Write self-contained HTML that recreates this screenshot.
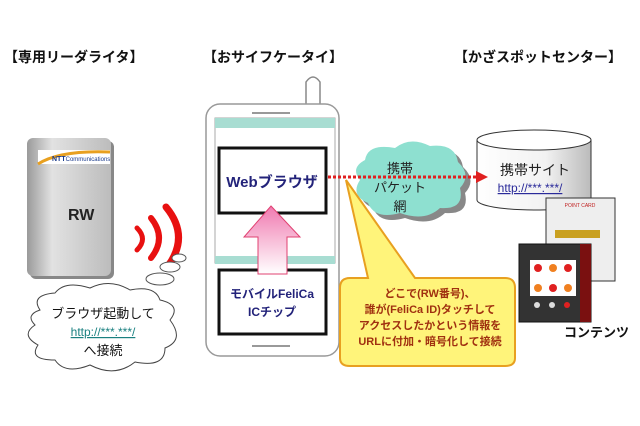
<!DOCTYPE html>
<html><head><meta charset="utf-8"><style>
body{margin:0;background:#fff}
svg{display:block;font-family:"Liberation Sans","Noto Sans CJK JP",sans-serif}
</style></head><body>
<svg width="640" height="426" viewBox="0 0 640 426">
<defs>
<linearGradient id="rw" x1="0" x2="1"><stop offset="0" stop-color="#9a9a9a"/><stop offset=".3" stop-color="#e2e2e2"/><stop offset="1" stop-color="#bcbcbc"/></linearGradient>
<linearGradient id="pk" x1="0" y1="0" x2="0" y2="1"><stop offset="0" stop-color="#f07ab0"/><stop offset="1" stop-color="#fff"/></linearGradient>
<linearGradient id="cy" x1="0" x2="1"><stop offset="0" stop-color="#fff"/><stop offset=".6" stop-color="#f2f2f2"/><stop offset="1" stop-color="#bbb"/></linearGradient>
</defs>
<g font-weight="bold" font-size="14" fill="#111">
<text x="4" y="62">【専用リーダライタ】</text>
<text x="203" y="62">【おサイフケータイ】</text>
<text x="454" y="62">【かざスポットセンター】</text>
</g>
<!-- RW -->
<rect x="30" y="141" width="84" height="138" rx="6" fill="#888"/>
<rect x="27" y="138" width="84" height="138" rx="6" fill="url(#rw)"/>
<rect x="38" y="150" width="72" height="14" fill="#fff"/>
<path d="M38 164 Q60 150 110 152" stroke="#e8a020" stroke-width="3" fill="none"/>
<text x="52" y="161" font-size="7" font-weight="bold" fill="#1a3b8c">NTT<tspan font-weight="normal" font-size="6">Communications</tspan></text>
<text x="68" y="220" font-size="16" font-weight="bold" fill="#222">RW</text>
<!-- waves -->
<g fill="none" stroke="#e81010" stroke-linecap="round">
<path d="M137 228 Q148 239 137 250" stroke-width="5"/>
<path d="M151 218 Q167 238 151 258" stroke-width="6"/>
<path d="M166 207 Q190 236 168 266" stroke-width="7"/>
</g>
<!-- phone -->
<path d="M306 105 V82 Q313 72 320 82 V105" fill="#fff" stroke="#888" stroke-width="1.5"/>
<rect x="206" y="104" width="133" height="252" rx="14" fill="#fff" stroke="#999" stroke-width="1.5"/>
<line x1="252" y1="113" x2="290" y2="113" stroke="#999" stroke-width="2"/>
<line x1="252" y1="346" x2="290" y2="346" stroke="#999" stroke-width="2"/>
<rect x="215" y="118" width="120" height="145" fill="#fff" stroke="#aaa"/>
<rect x="215" y="118" width="120" height="10" fill="#a8ddd2"/>
<rect x="215" y="256" width="120" height="8" fill="#a8ddd2"/>
<rect x="219" y="148" width="107" height="65" fill="#fff" stroke="#111" stroke-width="3"/>
<rect x="219" y="270" width="107" height="64" fill="#fff" stroke="#111" stroke-width="3"/>
<path d="M271 206 L300 237 L287 237 L287 274 L258 274 L258 237 L244 237Z" fill="url(#pk)" stroke="#e04070" stroke-width="1"/>
<text x="272" y="187" font-size="15" font-weight="bold" fill="#23237a" text-anchor="middle">Webブラウザ</text>
<text x="272" y="298" font-size="12" font-weight="bold" fill="#23237a" text-anchor="middle">モバイルFeliCa</text>
<text x="272" y="316" font-size="12" font-weight="bold" fill="#23237a" text-anchor="middle">ICチップ</text>
<!-- thought cloud -->
<ellipse cx="179" cy="258" rx="7" ry="4" fill="#fff" stroke="#555"/>
<ellipse cx="170" cy="267" rx="10" ry="5" fill="#fff" stroke="#555"/>
<ellipse cx="160" cy="279" rx="14" ry="6" fill="#fff" stroke="#555"/>
<path d="M40 310 Q30 295 55 293 Q65 280 90 288 Q110 278 130 290 Q155 285 160 300 Q182 305 170 320 Q185 340 165 348 Q165 368 135 362 Q115 378 90 365 Q65 375 55 360 Q28 360 38 345 Q20 335 35 325 Q25 315 40 310Z" fill="#fff" stroke="#444"/>
<text x="103" y="318" font-size="13" text-anchor="middle" fill="#111">ブラウザ起動して</text>
<text x="103" y="336" font-size="12" text-anchor="middle" fill="#1a8080" text-decoration="underline">http://***.***/</text>
<text x="103" y="355" font-size="13" text-anchor="middle" fill="#111">へ接続</text>
<!-- network cloud -->
<path d="M365 160 Q368 143 395 148 Q410 136 430 146 Q455 143 458 162 Q472 175 460 188 Q465 210 440 208 Q425 222 400 213 Q375 220 368 203 Q350 195 360 180 Q350 168 365 160Z" fill="#888" transform="translate(5,5)"/>
<path d="M365 160 Q368 143 395 148 Q410 136 430 146 Q455 143 458 162 Q472 175 460 188 Q465 210 440 208 Q425 222 400 213 Q375 220 368 203 Q350 195 360 180 Q350 168 365 160Z" fill="#8ee0d0"/>
<text x="400" y="173" font-size="13" text-anchor="middle" fill="#222">携帯</text>
<text x="400" y="192" font-size="13" text-anchor="middle" fill="#222">パケット</text>
<text x="400" y="211" font-size="13" text-anchor="middle" fill="#222">網</text>
<!-- cylinder -->
<path d="M477 140 V200 A57 10 0 0 0 591 200 V140" fill="url(#cy)" stroke="#333"/>
<ellipse cx="534" cy="140" rx="57" ry="10" fill="#fff" stroke="#333"/>
<text x="535" y="175" font-size="14" text-anchor="middle" fill="#222">携帯サイト</text>
<text x="530" y="192" font-size="12" text-anchor="middle" fill="#2a2a9a" text-decoration="underline">http://***.***/</text>
<!-- dotted line -->
<line x1="328" y1="177" x2="478" y2="177" stroke="#e02020" stroke-width="3" stroke-dasharray="3 2"/>
<path d="M476 171 L488 177 L476 183Z" fill="#e02020"/>
<!-- callout -->
<path d="M368 278 L346 180 L415 278 L505 278 Q515 278 515 288 L515 358 Q515 366 505 366 L350 366 Q340 366 340 358 L340 288 Q340 278 350 278Z" fill="#fff47a" stroke="#e8a020" stroke-width="2"/>
<g font-size="11" font-weight="bold" fill="#a03010" text-anchor="middle">
<text x="430" y="297">どこで(RW番号)、</text>
<text x="430" y="313">誰が(FeliCa ID)タッチして</text>
<text x="430" y="329">アクセスしたかという情報を</text>
<text x="430" y="345">URLに付加・暗号化して接続</text>
</g>
<!-- contents -->
<rect x="546" y="198" width="69" height="83" fill="#eee" stroke="#333"/>
<text x="580" y="207" font-size="5" fill="#c02020" text-anchor="middle">POINT CARD</text>
<rect x="555" y="230" width="45" height="8" fill="#c9a020"/>
<rect x="519" y="244" width="72" height="78" fill="#333" stroke="#111"/>
<rect x="580" y="244" width="11" height="78" fill="#7a1010"/>
<rect x="530" y="260" width="46" height="36" fill="#fff"/>
<g fill="#e02020"><circle cx="538" cy="268" r="4"/><circle cx="553" cy="288" r="4"/><circle cx="568" cy="268" r="4"/></g>
<g fill="#f08020"><circle cx="553" cy="268" r="4"/><circle cx="538" cy="288" r="4"/><circle cx="568" cy="288" r="4"/></g>
<g fill="#ddd"><circle cx="537" cy="305" r="3"/><circle cx="552" cy="305" r="3"/></g><circle cx="567" cy="305" r="3" fill="#e02020"/>
<text x="564" y="337" font-size="13" font-weight="bold" fill="#111">コンテンツ</text>
</svg>
</body></html>
